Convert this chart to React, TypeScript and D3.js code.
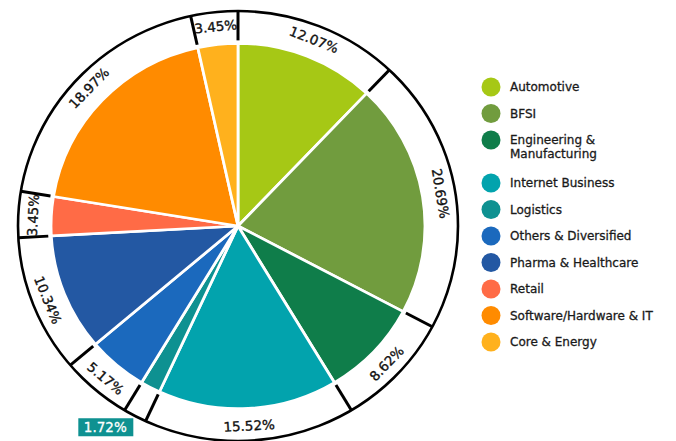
import * as React from 'react';
import * as d3 from 'd3';

// sectors, clockwise from 12 o'clock
const sectors = [
  'Automotive',
  'BFSI',
  'Engineering & Manufacturing',
  'Internet Business',
  'Logistics',
  'Others & Diversified',
  'Pharma & Healthcare',
  'Retail',
  'Software/Hardware & IT',
  'Core & Energy',
];
const shares = [12.07, 20.69, 8.62, 15.52, 1.72, 5.17, 10.34, 3.45, 18.97, 3.45];
const colors = [
  '#a6c815', '#719c3e', '#0f7d4a', '#02a3ad', '#0e9191',
  '#1b69bd', '#2358a3', '#ff6b46', '#ff8b00', '#ffb11d',
];
// legend rows: some names wrap over two lines
const legendLines = [
  ['Automotive'],
  ['BFSI'],
  ['Engineering &', 'Manufacturing'],
  ['Internet Business'],
  ['Logistics'],
  ['Others & Diversified'],
  ['Pharma & Healthcare'],
  ['Retail'],
  ['Software/Hardware & IT'],
  ['Core & Energy'],
];
// this one gets a boxed label outside the ring
const boxedSector = 'Logistics';

const W = 676, H = 441;
const cx = 238, cy = 226;
const rPie = 187, rRing = 220, rLabel = 205;
const font = '"DejaVu Sans", sans-serif';

export default function App() {
  const ref = React.useRef<SVGSVGElement>(null);

  React.useEffect(() => {
    const svg = d3.select(ref.current);
    svg.selectAll('*').remove();

    const data = sectors.map((name, i) => ({ name, value: shares[i], color: colors[i] }));
    const pie = d3.pie<any>().value(d => d.value).sort(null);
    const arcs = pie(data);
    const arc = d3.arc<any>().innerRadius(0).outerRadius(rPie);

    const g = svg.append('g')
      .attr('transform', `translate(${cx},${cy}) scale(1,0.977)`);

    g.selectAll('path.slice')
      .data(arcs)
      .enter()
      .append('path')
      .attr('class', 'slice')
      .attr('d', arc)
      .attr('fill', d => d.data.color)
      .attr('stroke', '#fff')
      .attr('stroke-width', 2.8)
      .attr('stroke-linejoin', 'round');

    // outer ring
    g.append('circle')
      .attr('r', rRing)
      .attr('fill', 'none')
      .attr('stroke', '#000')
      .attr('stroke-width', 2.6);

    // ticks on slice boundaries
    const pt = (a, r) => [r * Math.sin(a), -r * Math.cos(a)];
    g.selectAll('line.tick')
      .data(arcs)
      .enter()
      .append('line')
      .attr('x1', d => pt(d.startAngle, rPie + 3)[0])
      .attr('y1', d => pt(d.startAngle, rPie + 3)[1])
      .attr('x2', d => pt(d.startAngle, rRing)[0])
      .attr('y2', d => pt(d.startAngle, rRing)[1])
      .attr('stroke', '#000')
      .attr('stroke-width', 3);

    const fmt = v => v.toFixed(2) + '%';

    // labels inside the ring
    g.selectAll('text.pct')
      .data(arcs.filter(d => d.data.name !== boxedSector))
      .enter()
      .append('text')
      .attr('transform', d => {
        const mid = (d.startAngle + d.endAngle) / 2;
        const [x, y] = pt(mid, rLabel);
        let deg = (mid * 180) / Math.PI;
        if (deg > 90 && deg < 270) deg -= 180;
        return `translate(${x},${y}) rotate(${deg})`;
      })
      .attr('text-anchor', 'middle')
      .attr('dominant-baseline', 'central')
      .style('font-family', font)
      .style('font-size', '13.5px')
      .style('fill', '#111')
      .style('stroke', '#111')
      .style('stroke-width', 0.35)
      .text(d => fmt(d.data.value));

    // boxed label for the thin slice
    const boxed = arcs.find(d => d.data.name === boxedSector);
    if (boxed) {
      const mid = (boxed.startAngle + boxed.endAngle) / 2;
      const [bx, by] = pt(mid, rRing + 12);
      const lg = svg.append('g')
        .attr('transform', `translate(${cx + bx - 24},${cy + by * 0.977 + 1})`);
      lg.append('rect')
        .attr('x', -27).attr('y', -9)
        .attr('width', 55).attr('height', 18)
        .attr('fill', boxed.data.color);
      lg.append('text')
        .attr('text-anchor', 'middle')
        .attr('dominant-baseline', 'central')
        .style('font-family', font)
        .style('font-size', '13.5px')
        .style('fill', '#fff')
        .style('stroke', '#fff')
        .style('stroke-width', 0.3)
        .text(fmt(boxed.data.value));
    }

    // legend
    const leg = svg.append('g');
    let y = 87;
    legendLines.forEach((lines, i) => {
      leg.append('circle')
        .attr('cx', 491).attr('cy', y).attr('r', 9.5)
        .attr('fill', colors[i]);
      const t = leg.append('text')
        .attr('x', 510).attr('y', y)
        .attr('dominant-baseline', 'central')
        .style('font-family', font)
        .style('font-size', '12px')
        .style('fill', '#1a1a1a')
        .style('stroke', '#1a1a1a')
        .style('stroke-width', 0.3);
      lines.forEach((ln, j) => {
        t.append('tspan').attr('x', 510).attr('dy', j === 0 ? 0 : 13.5).text(ln);
      });
      y += 26.5 + (lines.length - 1) * 16.5;
    });
  }, []);

  return (
    <svg
      ref={ref}
      width={W}
      height={H}
      style={{ position: 'absolute', left: 0, top: 0, background: '#fff' }}
    />
  );
}
